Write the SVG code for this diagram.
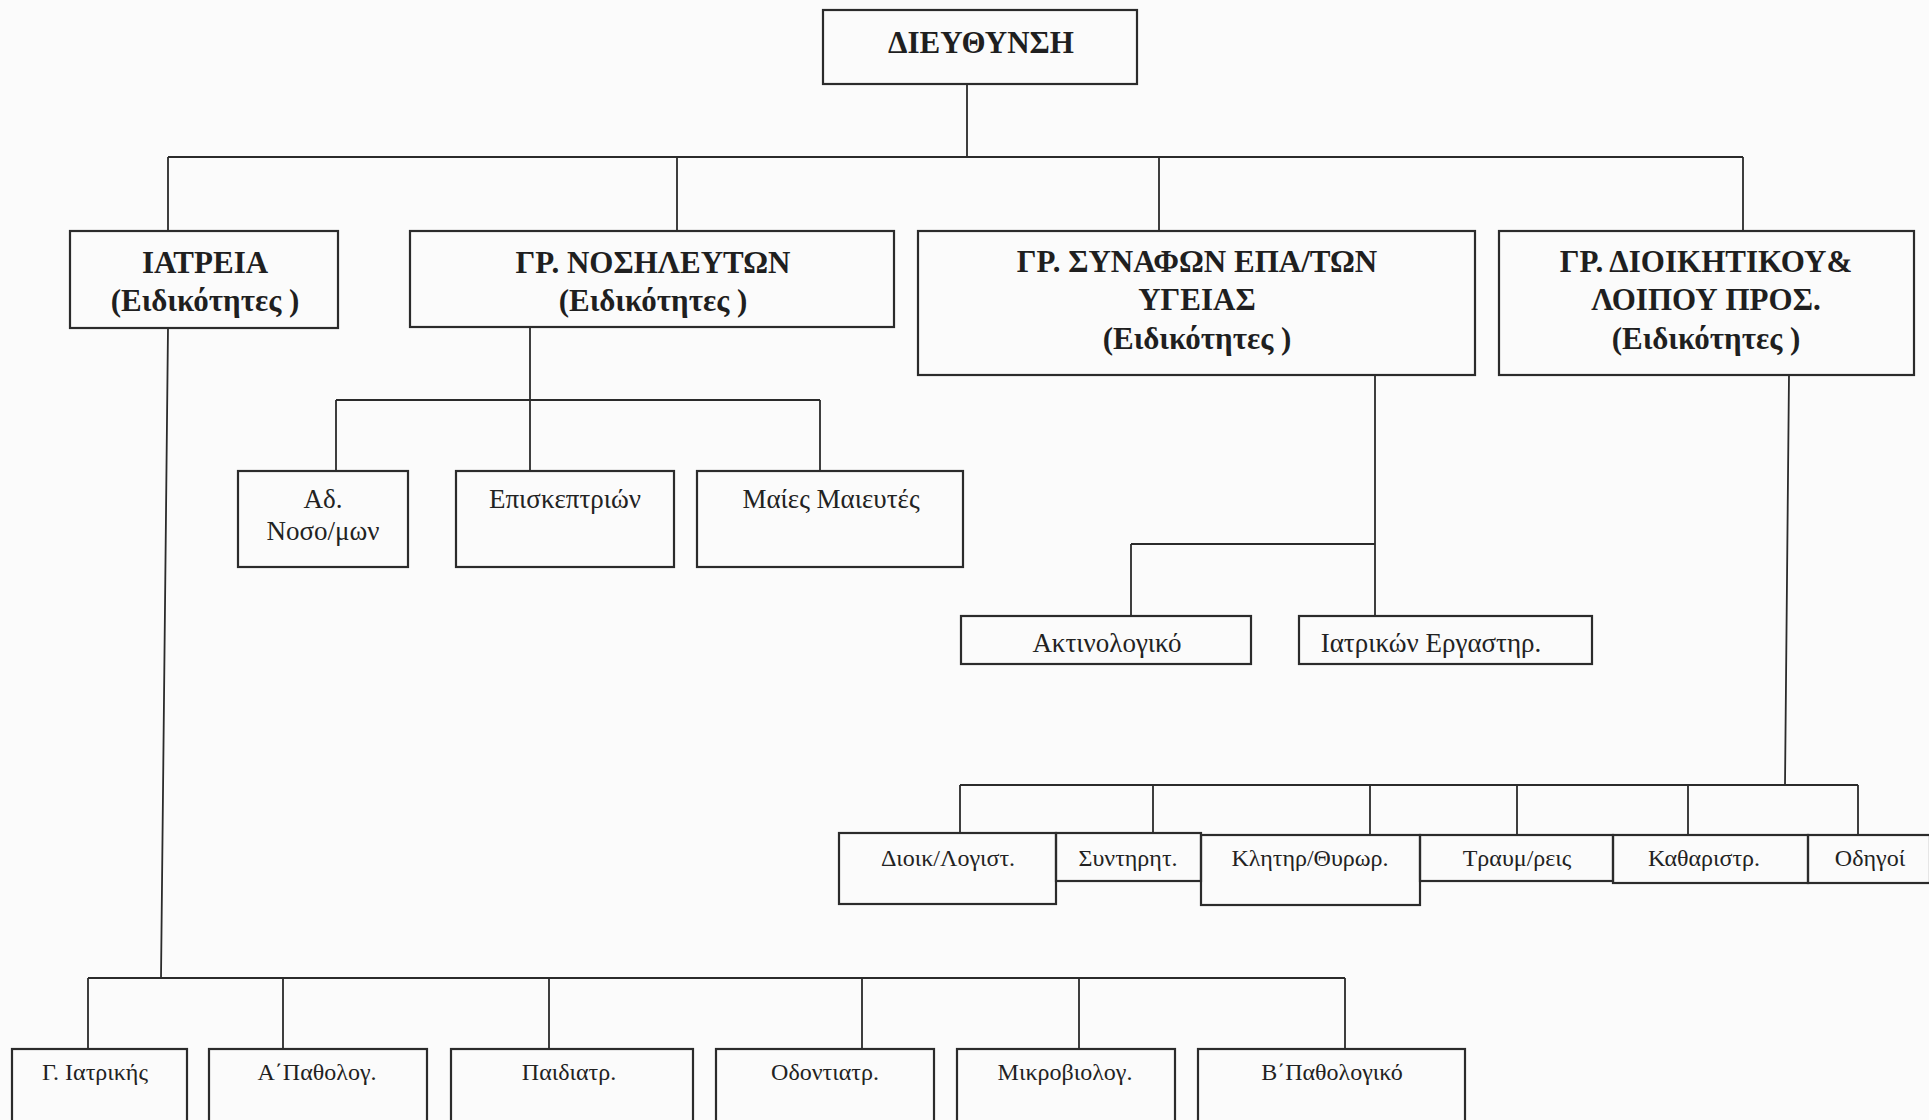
<svg xmlns="http://www.w3.org/2000/svg" width="1929" height="1120" viewBox="0 0 1929 1120">
<style>
.bg{fill:#fbfbfb}
.box{fill:none;stroke:#2b2b2b;stroke-width:2.2}
.ln{fill:none;stroke:#2b2b2b;stroke-width:1.8}
.h{font-family:"Liberation Serif","DejaVu Serif",serif;font-weight:bold;font-size:31px;text-anchor:middle;fill:#1f1f1f}
.t{font-family:"Liberation Serif","DejaVu Serif",serif;font-size:24px;text-anchor:middle;fill:#222}
.m{font-family:"Liberation Serif","DejaVu Serif",serif;font-size:27px;text-anchor:middle;fill:#222}
</style>
<rect class="bg" x="0" y="0" width="1929" height="1120"/>
<g id="connectors">
<path class="ln" d="M967,84 V157 M168,157 H1743 M168,157 V231 M677,157 V231 M1159,157 V231 M1743,157 V231"/>
<path class="ln" d="M530,327 V471 M336,400 H820 M336,400 V471 M820,400 V471"/>
<path class="ln" d="M1375,375 V616 M1131,544 H1375 M1131,544 V616"/>
<path class="ln" d="M1789,375 L1785,785 M960,785 H1858 M960,785 V834 M1153,785 V834 M1370,785 V834 M1517,785 V834 M1688,785 V834 M1858,785 V834"/>
<path class="ln" d="M168,328 L161,978 M88,978 H1345 M88,978 V1049 M283,978 V1049 M549,978 V1049 M862,978 V1049 M1079,978 V1049 M1345,978 V1049"/>
</g>
<g id="n-dieythynsi"><rect class="box" x="823" y="10" width="314" height="74"/><text class="h" x="981" y="53">ΔΙΕΥΘΥΝΣΗ</text></g>
<g id="n-iatreia"><rect class="box" x="70" y="231" width="268" height="97"/><text class="h" x="205" y="273">ΙΑΤΡΕΙΑ</text><text class="h" x="205" y="311">(Ειδικότητες )</text></g>
<g id="n-nosileyton"><rect class="box" x="410" y="231" width="484" height="96"/><text class="h" x="653" y="273">ΓΡ. ΝΟΣΗΛΕΥΤΩΝ</text><text class="h" x="653" y="311">(Ειδικότητες )</text></g>
<g id="n-synafon"><rect class="box" x="918" y="231" width="557" height="144"/><text class="h" x="1197" y="272">ΓΡ. ΣΥΝΑΦΩΝ ΕΠΑ/ΤΩΝ</text><text class="h" x="1197" y="310">ΥΓΕΙΑΣ</text><text class="h" x="1197" y="349">(Ειδικότητες )</text></g>
<g id="n-dioikitikou"><rect class="box" x="1499" y="231" width="415" height="144"/><text class="h" x="1706" y="272">ΓΡ. ΔΙΟΙΚΗΤΙΚΟΥ&amp;</text><text class="h" x="1706" y="310">ΛΟΙΠΟΥ ΠΡΟΣ.</text><text class="h" x="1706" y="349">(Ειδικότητες )</text></g>
<g id="n-ad-nosomon"><rect class="box" x="238" y="471" width="170" height="96"/><text class="m" x="323" y="508">Αδ.</text><text class="m" x="323" y="540">Νοσο/μων</text></g>
<g id="n-episkeptrion"><rect class="box" x="456" y="471" width="218" height="96"/><text class="m" x="565" y="508">Επισκεπτριών</text></g>
<g id="n-maies"><rect class="box" x="697" y="471" width="266" height="96"/><text class="m" x="831" y="508">Μαίες  Μαιευτές</text></g>
<g id="n-aktinologiko"><rect class="box" x="961" y="616" width="290" height="48"/><text class="m" x="1107" y="652">Ακτινολογικό</text></g>
<g id="n-iatrikon-ergastir"><rect class="box" x="1299" y="616" width="293" height="48"/><text class="m" x="1431" y="652">Ιατρικών Εργαστηρ.</text></g>
<g id="n-dioik-logist"><rect class="box" x="839" y="833" width="217" height="71"/><text class="t" x="948" y="866">Διοικ/Λογιστ.</text></g>
<g id="n-syntirit"><rect class="box" x="1056" y="833" width="145" height="48"/><text class="t" x="1128" y="866">Συντηρητ.</text></g>
<g id="n-klitir"><rect class="box" x="1201" y="835" width="219" height="70"/><text class="t" x="1310" y="866">Κλητηρ/Θυρωρ.</text></g>
<g id="n-traum"><rect class="box" x="1420" y="835" width="193" height="46"/><text class="t" x="1517" y="866">Τραυμ/ρεις</text></g>
<g id="n-katharistr"><rect class="box" x="1613" y="835" width="195" height="48"/><text class="t" x="1704" y="866">Καθαριστρ.</text></g>
<g id="n-odigoi"><rect class="box" x="1808" y="835" width="122" height="48"/><text class="t" x="1870" y="866">Οδηγοί</text></g>
<g id="n-g-iatrikis"><rect class="box" x="12" y="1049" width="175" height="80"/><text class="t" x="95" y="1080">Γ. Ιατρικής</text></g>
<g id="n-a-patholog"><rect class="box" x="209" y="1049" width="218" height="80"/><text class="t" x="317" y="1080">Α΄Παθολογ.</text></g>
<g id="n-paidiatr"><rect class="box" x="451" y="1049" width="242" height="80"/><text class="t" x="569" y="1080">Παιδιατρ.</text></g>
<g id="n-odontiatr"><rect class="box" x="716" y="1049" width="218" height="80"/><text class="t" x="825" y="1080">Οδοντιατρ.</text></g>
<g id="n-mikroviolog"><rect class="box" x="957" y="1049" width="218" height="80"/><text class="t" x="1065" y="1080">Μικροβιολογ.</text></g>
<g id="n-v-pathologiko"><rect class="box" x="1198" y="1049" width="267" height="80"/><text class="t" x="1332" y="1080">Β΄Παθολογικό</text></g>
</svg>
